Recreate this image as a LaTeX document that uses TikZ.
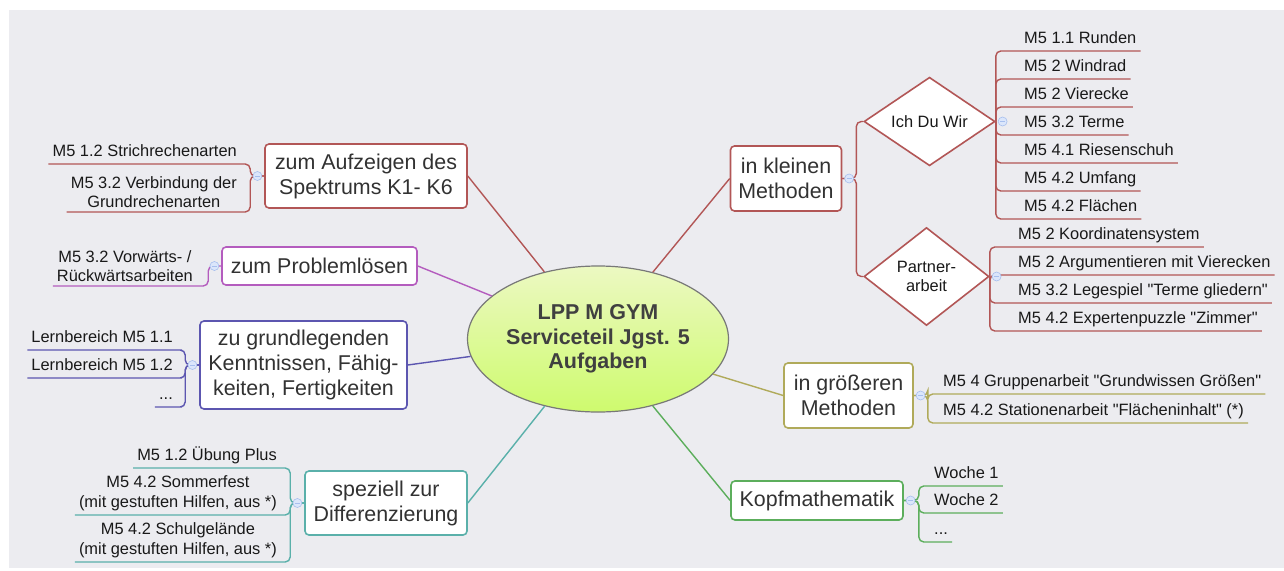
\documentclass[tikz,border=0pt]{standalone}
\usepackage{fontspec}
\setmainfont{Liberation Sans}[Ligatures=TeXOff]
\usepackage{tikz}
\usetikzlibrary{shapes.geometric, positioning}

\definecolor{bg}{RGB}{236,236,240}
\definecolor{cred}{RGB}{178,86,86}
\definecolor{cpurple}{RGB}{180,92,190}
\definecolor{cindigo}{RGB}{92,86,176}
\definecolor{cteal}{RGB}{90,176,170}
\definecolor{colive}{RGB}{176,170,90}
\definecolor{cgreen}{RGB}{92,174,92}
\definecolor{lppTop}{RGB}{236,249,194}
\definecolor{lppBottom}{RGB}{206,250,110}
\definecolor{rimgray}{RGB}{120,120,120}
\definecolor{ctxt}{RGB}{64,64,64}
\definecolor{ttxt}{RGB}{50,50,50}
\definecolor{ltxt}{RGB}{25,25,25}
\definecolor{foldfill}{RGB}{219,230,251}
\definecolor{foldrim}{RGB}{167,191,238}

\newcommand\centrefont{\fontsize{21.5}{24.5}\selectfont\bfseries}
\newcommand\topicfont{\fontsize{21.4}{25}\selectfont}
\newcommand\leaffont{\fontsize{16.4}{19.5}\selectfont}

\begin{document}
\begin{tikzpicture}[x=1pt, y=-1pt,
  centre/.style={ellipse, draw=rimgray, line width=1.2pt, top color=lppTop, bottom color=lppBottom,
    inner sep=0pt, minimum width=261pt, minimum height=146pt, align=center, text=ctxt, font=\centrefont},
  topic/.style={draw=#1, fill=white, rounded corners=4pt, line width=1.6pt, inner sep=0pt,
    align=center, text=ttxt, font=\topicfont},
  decision/.style={diamond, draw=#1, fill=white, line width=1.6pt, inner sep=0pt,
    align=center, text=ltxt, font=\leaffont},
  leaf/.style={inner xsep=4pt, inner ysep=3.5pt, text depth=3.5pt, text=ltxt, font=\leaffont},
  leafii/.style={inner xsep=4pt, inner ysep=4pt, align=center, text=ltxt, font=\leaffont},
  link/.style={draw=#1, line width=1.4pt},
  twig/.style={draw=#1, line width=1.4pt, rounded corners=5pt},
  fold/.style={circle, draw=foldrim, fill=foldfill, line width=0.6pt, minimum size=9pt, inner sep=0pt,
    path picture={\draw[foldrim, line width=0.8pt] ([xshift=-2.5pt]path picture bounding box.center)
      -- ([xshift=2.5pt]path picture bounding box.center);}}]

  \useasboundingbox (0,0) rectangle (1284,570);
  \fill[bg] (9,10) rectangle (1284,568);

  \node[centre] (lpp) at (598,339) {LPP M GYM\\Serviceteil Jgst. 5\\Aufgaben};

  \node[topic=cred, minimum width=202pt, minimum height=64pt] (auf) at (366,176) {zum Aufzeigen des\\Spektrums K1- K6};
  \node[topic=cpurple, minimum width=195pt, minimum height=38pt] (pl) at (319.5,266) {zum Problemlösen};
  \node[topic=cindigo, minimum width=207pt, minimum height=88pt] (gl) at (303.5,365) {zu grundlegenden\\Kenntnissen, Fähig-\\keiten, Fertigkeiten};
  \node[topic=cteal, minimum width=162pt, minimum height=64pt] (diff) at (386,503) {speziell zur\\Differenzierung};
  \node[topic=cred, minimum width=111pt, minimum height=65pt] (kl) at (786,178.5) {in kleinen\\Methoden};
  \node[topic=colive, minimum width=129pt, minimum height=65pt] (gr) at (848.5,395.5) {in größeren\\Methoden};
  \node[topic=cgreen, minimum width=172pt, minimum height=39pt] (kopf) at (817,500.5) {Kopfmathematik};

  \node[decision=cred, minimum width=131pt, minimum height=70pt] (idw) at (929.5,121.5) {Ich Du Wir};
  \node[decision=cred, minimum width=125pt, minimum height=98pt] (pa) at (926.5,276.5) {Partner-\\arbeit};

  \draw[link=cred] (auf.east) -- (lpp);
  \draw[link=cpurple] (pl.east) -- (lpp);
  \draw[link=cindigo] (gl.east) -- (lpp);
  \draw[link=cteal] (diff.east) -- (lpp);
  \draw[link=cred] (kl.west) -- (lpp);
  \draw[link=colive] (gr.west) -- (lpp);
  \draw[link=cgreen] (kopf.west) -- (lpp);

  \foreach \t [count=\i] in {M5 1.1 Runden, M5 2 Windrad, M5 2 Vierecke, M5 3.2 Terme,
      M5 4.1 Riesenschuh, M5 4.2 Umfang, M5 4.2 Flächen}
    \node[leaf, anchor=south west] (r\i) at (1020,23+28*\i) {\t};
  \foreach \t [count=\i] in {M5 2 Koordinatensystem, M5 2 Argumentieren mit Vierecken,
      M5 3.2 Legespiel "Terme gliedern", M5 4.2 Expertenpuzzle "Zimmer"}
    \node[leaf, anchor=south west] (p\i) at (1014,219+28*\i) {\t};

  \node[leaf, anchor=south east] (a1) at (241,164) {M5 1.2 Strichrechenarten};
  \node[leafii, anchor=south east] (a2) at (241,212) {M5 3.2 Verbindung der\\Grundrechenarten};
  \node[leafii, anchor=south east] (b1) at (197,286) {M5 3.2 Vorwärts- /\\Rückwärtsarbeiten};
  \node[leaf, anchor=south east] (c1) at (177,350) {Lernbereich M5 1.1};
  \node[leaf, anchor=south east] (c2) at (177,378) {Lernbereich M5 1.2};
  \node[leaf, anchor=south east] (c3) at (177,407) {...};
  \node[leaf, anchor=south east] (d1) at (281,468) {M5 1.2 Übung Plus};
  \node[leafii, anchor=south east] (d2) at (281,515) {M5 4.2 Sommerfest\\(mit gestuften Hilfen, aus *)};
  \node[leafii, anchor=south east] (d3) at (281,562) {M5 4.2 Schulgelände\\(mit gestuften Hilfen, aus *)};
  \node[leaf, anchor=south west] (e1) at (939,394) {M5 4 Gruppenarbeit "Grundwissen Größen"};
  \node[leaf, anchor=south west] (e2) at (939,423) {M5 4.2 Stationenarbeit "Flächeninhalt" (*)};
  \node[leaf, anchor=south west] (k1) at (930,486) {Woche 1};
  \node[leaf, anchor=south west] (k2) at (930,513) {Woche 2};
  \node[leaf, anchor=south west] (k3) at (930,542) {...};

  \coordinate (aufj) at ([xshift=-14pt]auf.west);
  \coordinate (plj) at ([xshift=-13pt]pl.west);
  \coordinate (glj) at ([xshift=-14pt]gl.west);
  \coordinate (diffj) at ([xshift=-14pt]diff.west);
  \coordinate (klj) at ([xshift=14pt]kl.east);
  \coordinate (grj) at ([xshift=14pt]gr.east);
  \coordinate (kopfj) at ([xshift=15pt]kopf.east);

  \foreach \l in {a1,a2}
    \draw[twig=cred] (auf.west) -- (aufj) |- (\l.south east) -- (\l.south west);
  \draw[twig=cpurple] (pl.west) -- (plj) |- (b1.south east) -- (b1.south west);
  \foreach \l in {c1,c2,c3}
    \draw[twig=cindigo] (gl.west) -- (glj) |- (\l.south east) -- (\l.south west);
  \foreach \l in {d1,d2,d3}
    \draw[twig=cteal] (diff.west) -- (diffj) |- (\l.south east) -- (\l.south west);
  \draw[twig=cred] (kl.east) -- (klj) |- (idw.west);
  \draw[twig=cred] (kl.east) -- (klj) |- (pa.west);
  \foreach \i in {1,...,7}
    \draw[twig=cred] (idw.east) |- (r\i.south west) -- (r\i.south east);
  \foreach \i in {1,...,4}
    \draw[twig=cred] (pa.east) |- (p\i.south west) -- (p\i.south east);
  \foreach \l in {e1,e2}
    \draw[twig=colive] (gr.east) -- (grj) |- (\l.south west) -- (\l.south east);
  \foreach \l in {k1,k2,k3}
    \draw[twig=cgreen] (kopf.east) -- (kopfj) |- (\l.south west) -- (\l.south east);

  \node[fold, left=2pt of auf] (fauf) {};
  \node[fold, left=2pt of pl] (fpl) {};
  \node[fold, left=2pt of gl] (fgl) {};
  \node[fold, left=2pt of diff] (fdiff) {};
  \node[fold, right=2pt of kl] (fkl) {};
  \node[fold, right=2pt of gr] (fgr) {};
  \node[fold, right=2pt of kopf] (fkopf) {};
  \node[fold, right=2pt of idw] (fidw) {};
  \node[fold, right=2pt of pa] (fpa) {};
\end{tikzpicture}
\end{document}
